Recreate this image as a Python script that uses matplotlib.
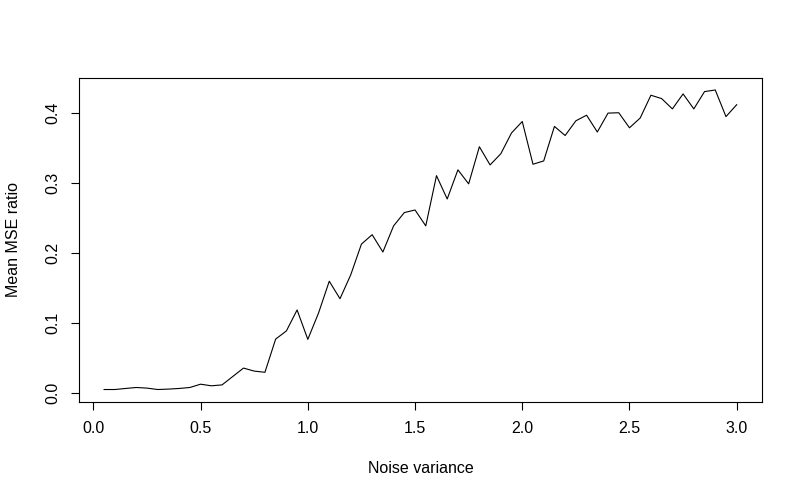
import matplotlib
matplotlib.use("Agg")
import matplotlib.pyplot as plt
import numpy as np

noise_variance = [0.05, 0.10, 0.15, 0.20, 0.25, 0.30, 0.35, 0.40, 0.45, 0.50,
                  0.55, 0.60, 0.65, 0.70, 0.75, 0.80, 0.85, 0.90, 0.95, 1.00,
                  1.05, 1.10, 1.15, 1.20, 1.25, 1.30, 1.35, 1.40, 1.45, 1.50,
                  1.55, 1.60, 1.65, 1.70, 1.75, 1.80, 1.85, 1.90, 1.95, 2.00,
                  2.05, 2.10, 2.15, 2.20, 2.25, 2.30, 2.35, 2.40, 2.45, 2.50,
                  2.55, 2.60, 2.65, 2.70, 2.75, 2.80, 2.85, 2.90, 2.95, 3.00]
mean_mse_ratio = [0.0054, 0.0054, 0.0069, 0.0083, 0.0074, 0.0054, 0.0060, 0.0069, 0.0083, 0.0130,
                  0.0107, 0.0120, 0.0240, 0.0360, 0.0317, 0.0300, 0.0774, 0.0890, 0.1190, 0.0770,
                  0.1146, 0.1600, 0.1350, 0.1690, 0.2130, 0.2264, 0.2017, 0.2390, 0.2580, 0.2617,
                  0.2390, 0.3107, 0.2774, 0.3190, 0.2990, 0.3520, 0.3260, 0.3420, 0.3717, 0.3880,
                  0.3270, 0.3317, 0.3810, 0.3680, 0.3890, 0.3970, 0.3730, 0.4000, 0.4005, 0.3790,
                  0.3930, 0.4255, 0.4207, 0.4060, 0.4274, 0.4060, 0.4307, 0.4330, 0.3950, 0.4120]
x_ticks = [0.0, 0.5, 1.0, 1.5, 2.0, 2.5, 3.0]
y_ticks = [0.0, 0.1, 0.2, 0.3, 0.4]

plt.rcParams['font.family'] = ['Liberation Sans', 'DejaVu Sans']

fig = plt.figure(figsize=(8, 5), dpi=100)
ax = fig.add_axes([0.0985, 0.197, 0.854, 0.647])
ax.plot(noise_variance, mean_mse_ratio, color='black', linewidth=0.8)

xmin, xmax = min(noise_variance), max(noise_variance)
ymin, ymax = min(mean_mse_ratio), max(mean_mse_ratio)
dx = (xmax - xmin) * 0.04
dy = (ymax - ymin) * 0.04
ax.set_xlim(xmin - dx, xmax + dx)
ax.set_ylim(ymin - dy, ymax + dy)

ax.set_xticks(x_ticks)
ax.set_xticklabels([f"{v:.1f}" for v in x_ticks])
ax.set_yticks(y_ticks)
ax.set_yticklabels([f"{v:.1f}" for v in y_ticks], rotation=90, va='center')
ax.tick_params(axis='both', direction='out', length=6, width=0.8, labelsize=11.5, color='black')
ax.tick_params(axis='x', pad=8)
ax.tick_params(axis='y', pad=7)
for s in ax.spines.values():
    s.set_linewidth(0.8)
    s.set_color('black')

ax.set_xlabel("Noise variance", fontsize=11.5, labelpad=18)
ax.set_ylabel("Mean MSE ratio", fontsize=11.5, labelpad=18)

fig.savefig("out.png", dpi=100)
